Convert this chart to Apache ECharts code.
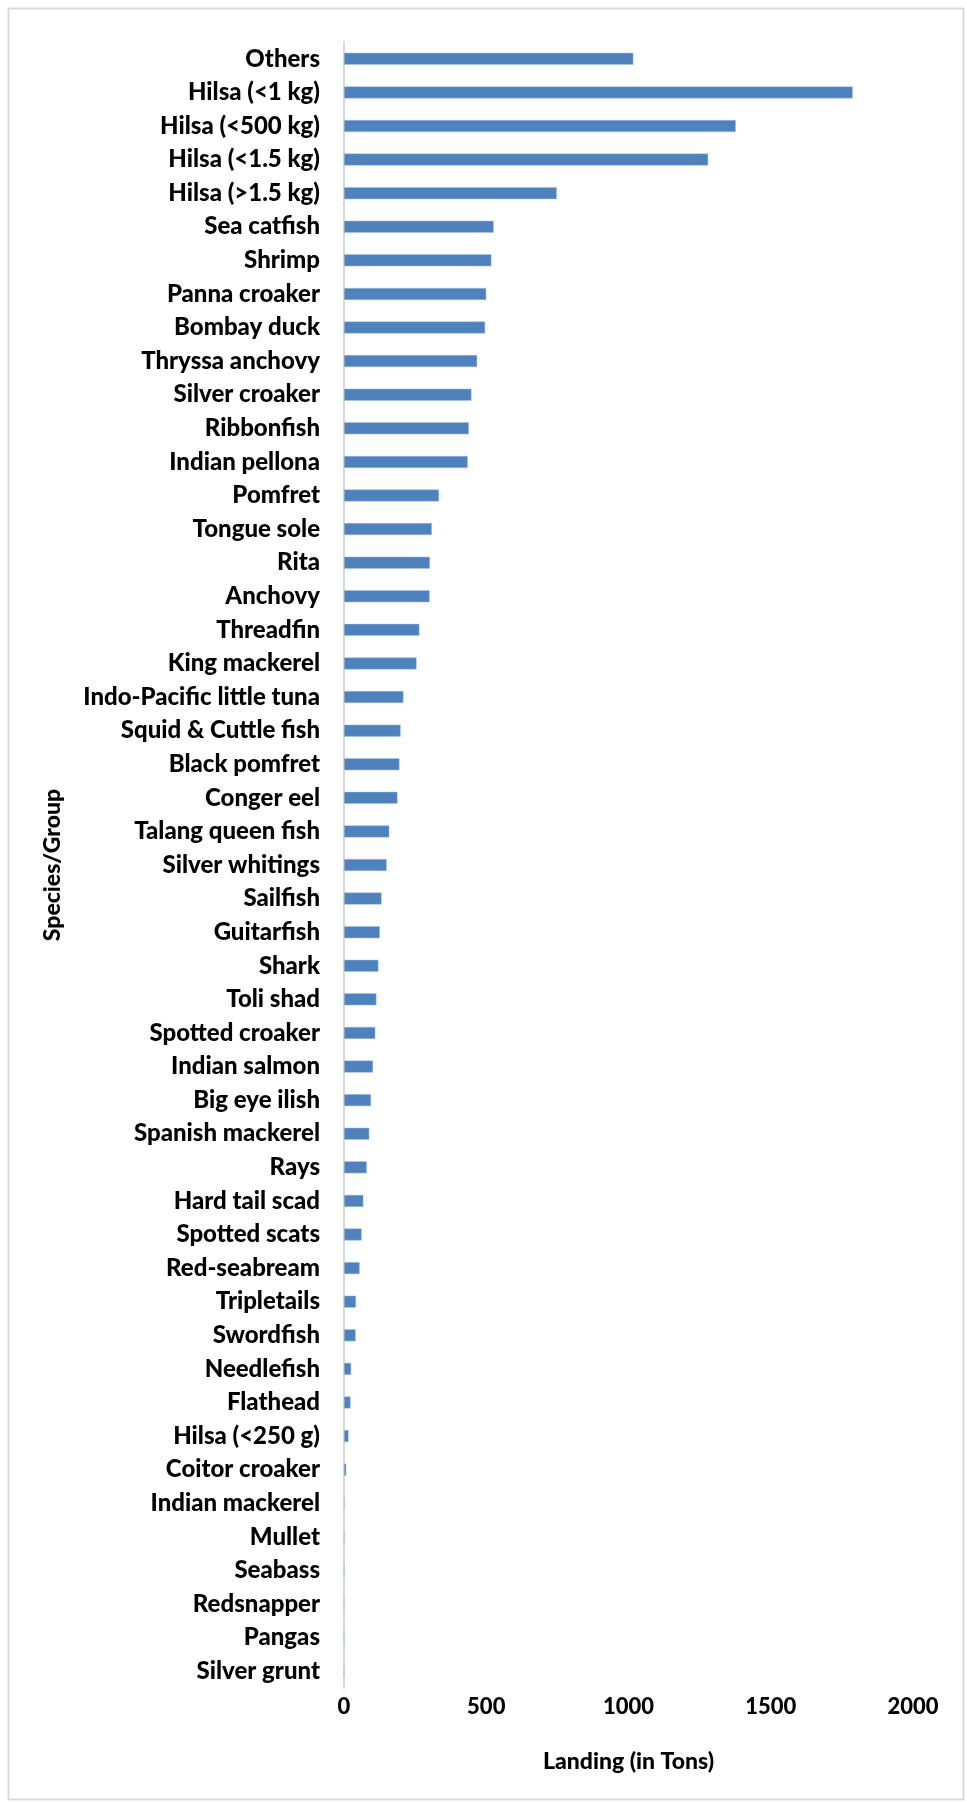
<!DOCTYPE html>
<html>
<head>
<meta charset="utf-8">
<title>Landing by Species/Group</title>
<script src="https://cdn.jsdelivr.net/npm/echarts@6/dist/echarts.min.js"></script>
<style>
  html, body { margin: 0; padding: 0; background: #ffffff; }
  #chart { width: 967px; height: 1803px; }
</style>
</head>
<body>
<div id="chart"></div>
<script>
// Species / groups, listed top to bottom
const species = [
  'Others', 'Hilsa (<1 kg)', 'Hilsa (<500 kg)', 'Hilsa (<1.5 kg)', 'Hilsa (>1.5 kg)',
  'Sea catfish', 'Shrimp', 'Panna croaker', 'Bombay duck', 'Thryssa anchovy',
  'Silver croaker', 'Ribbonfish', 'Indian pellona', 'Pomfret', 'Tongue sole',
  'Rita', 'Anchovy', 'Threadfin', 'King mackerel', 'Indo-Pacific little tuna',
  'Squid & Cuttle fish', 'Black pomfret', 'Conger eel', 'Talang queen fish', 'Silver whitings',
  'Sailfish', 'Guitarfish', 'Shark', 'Toli shad', 'Spotted croaker',
  'Indian salmon', 'Big eye ilish', 'Spanish mackerel', 'Rays', 'Hard tail scad',
  'Spotted scats', 'Red-seabream', 'Tripletails', 'Swordfish', 'Needlefish',
  'Flathead', 'Hilsa (<250 g)', 'Coitor croaker', 'Indian mackerel', 'Mullet',
  'Seabass', 'Redsnapper', 'Pangas', 'Silver grunt'
];

// Landing in tons, same order as species
const landing = [
  1017, 1788, 1377, 1280, 748,
  526, 518, 500, 496, 468,
  448, 439, 435, 334, 309,
  302, 301, 265, 255, 209,
  199, 195, 188, 159, 150,
  132, 126, 121, 114, 110,
  102, 95, 89, 80, 68,
  62, 55, 42, 41, 25,
  23, 16, 8, 2, 1.5,
  1.5, 0.5, 0.5, 0.2
];

// Value axis ticks
const xTicks = [0, 500, 1000, 1500, 2000];

const FONT = 'Lato, "Open Sans", sans-serif';
const WEIGHT = 900;

const chart = echarts.init(document.getElementById('chart'), null, { renderer: 'canvas' });

chart.setOption({
  animation: false,
  backgroundColor: '#ffffff',
  graphic: [{
    type: 'rect',
    left: 6, top: 6,
    shape: { width: 955, height: 1791 },
    style: { fill: 'none', stroke: '#d9d9d9', lineWidth: 2 },
    silent: true
  }],
  grid: { left: 344, right: 54, top: 42, bottom: 115, containLabel: false },
  xAxis: {
    type: 'value',
    min: xTicks[0],
    max: xTicks[xTicks.length - 1],
    interval: xTicks[1] - xTicks[0],
    name: 'Landing (in Tons)',
    nameLocation: 'middle',
    nameGap: 62,
    nameTextStyle: { fontFamily: FONT, fontWeight: WEIGHT, fontSize: 23, color: '#000' },
    axisLine: { show: false },
    axisTick: { show: false },
    splitLine: { show: false },
    axisLabel: {
      fontFamily: FONT, fontWeight: WEIGHT, fontSize: 22, color: '#000', margin: 8,
      formatter: v => String(v)
    }
  },
  yAxis: {
    type: 'category',
    data: species,
    inverse: true,
    name: 'Species/Group',
    nameLocation: 'middle',
    nameGap: 280,
    nameRotate: 90,
    nameTextStyle: { fontFamily: FONT, fontWeight: WEIGHT, fontSize: 23, color: '#000' },
    axisLine: { show: true, lineStyle: { color: '#d9d9d9', width: 2 } },
    axisTick: { show: false },
    axisLabel: { fontFamily: FONT, fontWeight: WEIGHT, fontSize: 24, color: '#000', margin: 24, interval: 0 }
  },
  series: [{
    type: 'bar',
    data: landing,
    barWidth: 12,
    itemStyle: { color: '#4f81bd', borderColor: '#a7c0de', borderWidth: 0.5 },
    z: 3
  }]
});
</script>
</body>
</html>
